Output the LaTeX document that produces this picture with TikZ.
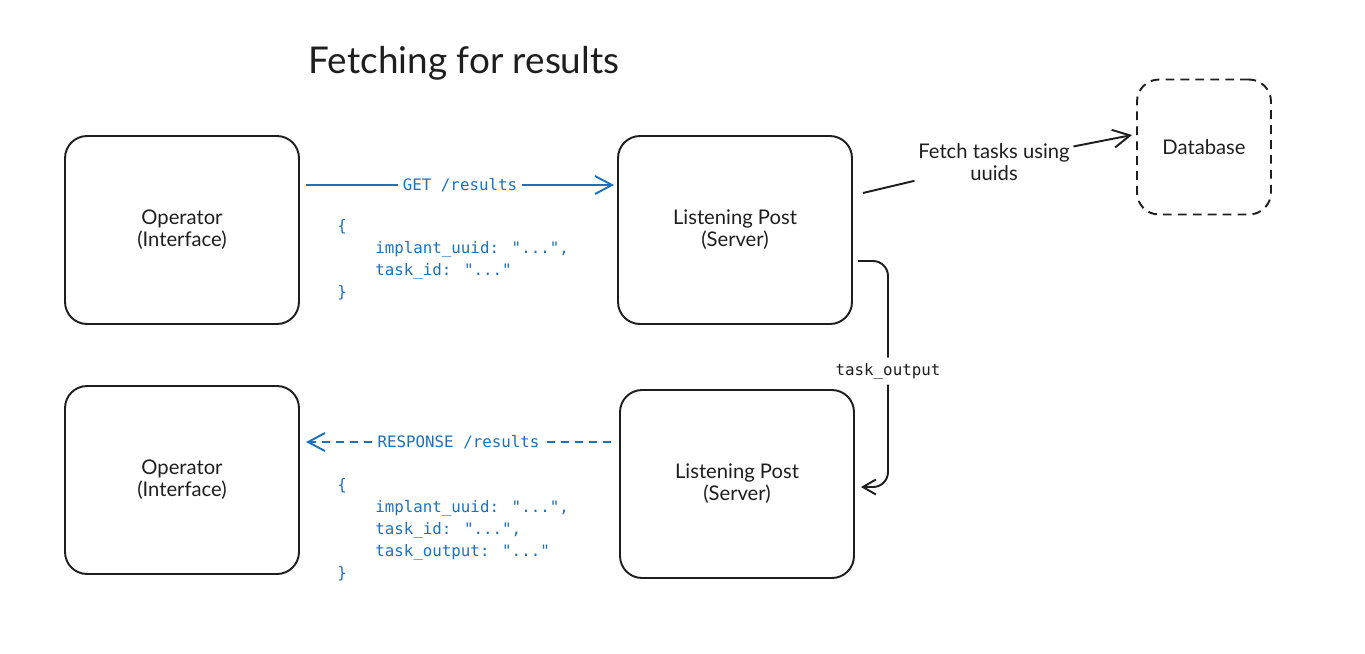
\documentclass[tikz,border=0pt]{standalone}
\usepackage{fontspec}
\setmainfont{Lato}
\newfontfamily\codefont{DejaVu Sans Mono}
\usetikzlibrary{arrows.meta}
\definecolor{inkgray}{HTML}{1E1E1E}
\definecolor{linkblue}{HTML}{1971C2}

\begin{document}
\begin{tikzpicture}[x=0.02cm,y=-0.02cm,
        box/.style={draw=inkgray,line width=1.1pt,rounded corners=0.44cm,minimum width=4.68cm,minimum height=3.76cm,align=center,text=inkgray,font=\fontsize{11.5}{12.5}\selectfont},
        dbbox/.style={box,dash pattern=on 5pt off 3.5pt,minimum width=2.68cm,minimum height=2.7cm},
        lbl/.style={fill=white,inner sep=1pt,font=\codefont\fontsize{9}{11}\selectfont},
        code/.style={anchor=west,inner sep=0pt,align=left,text=linkblue,font=\codefont\fontsize{9}{12.5}\selectfont},
        wire/.style={inkgray,line width=1.1pt},
        link/.style={linkblue,line width=1.1pt},
        tip/.style={-{Straight Barb[length=0.34cm,width=0.36cm]}}]
        \useasboundingbox (0,0) rectangle (1365,653);

        \node[text=inkgray,font=\fontsize{21}{24}\selectfont] (title) at (464,63) {Fetching for results};

        \node[box] (op1) at (182,230) {Operator\\(Interface)};
        \node[box] (lp1) at (735,230) {Listening Post\\(Server)};
        \node[dbbox] (db) at (1204,147) {Database};
        \node[box] (op2) at (182,480) {Operator\\(Interface)};
        \node[box] (lp2) at (737,484) {Listening Post\\(Server)};

        % request
        \draw[link,tip] ([shift={(6,-45)}]op1.east) -- node[lbl,inner sep=3pt,text=linkblue] (get) {GET /results} ([shift={(-3,-45)}]lp1.west);
        \node[code] (reqbody) at (337,260) {\{\\\hspace*{2.4em}implant\_uuid: "...",\\\hspace*{2.4em}task\_id: "..."\\\}};

        % response
        \draw[link,dash pattern=on 4.5pt off 3.5pt,tip] ([shift={(-8,-42)}]lp2.west) -- node[lbl,text=linkblue] (resp) {RESPONSE /results} ([shift={(6,-38)}]op2.east);
        \node[code] (respbody) at (337,530) {\{\\\hspace*{2.4em}implant\_uuid: "...",\\\hspace*{2.4em}task\_id: "...",\\\hspace*{2.4em}task\_output: "..."\\\}};

        % database lookup
        \node[font=\fontsize{11.5}{12.5}\selectfont,text=inkgray,align=center,inner sep=2pt] (fetch) at (994,162) {Fetch tasks using\\uuids};
        \draw[wire] ([shift={(10,-37)}]lp1.east) -- (fetch);
        \draw[wire,tip] (fetch) -- ([shift={(-4,-12)}]db.west);

        % task output
        \node[lbl,inner sep=3pt,text=inkgray] (tout) at (888,371) {task\_output};
        \draw[wire,rounded corners=0.3cm] ([shift={(5,31)}]lp1.east) -| (tout.north);
        \draw[wire,rounded corners=0.3cm,-{Straight Barb[length=0.26cm,width=0.3cm]}] (tout.south) |- ([shift={(6,3)}]lp2.east);
    \end{tikzpicture}
\end{document}
